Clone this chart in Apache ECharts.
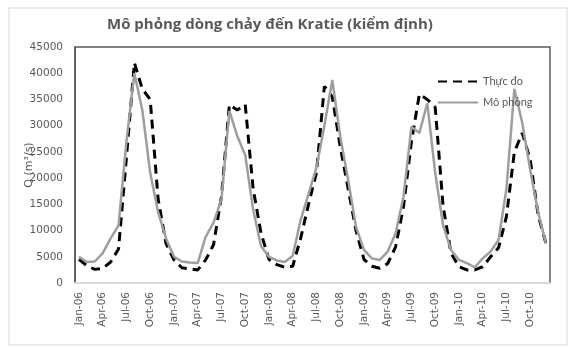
<!DOCTYPE html>
<html>
<head>
<meta charset="utf-8">
<script src="https://cdn.jsdelivr.net/npm/echarts@6/dist/echarts.min.js"></script>
<style>
html,body{margin:0;padding:0;background:#fff;}
#c{width:573px;height:354px;}
</style>
</head>
<body>
<div id="c"></div>
<script>
var categories = [
 'Jan-06','Feb-06','Mar-06','Apr-06','May-06','Jun-06','Jul-06','Aug-06','Sep-06','Oct-06','Nov-06','Dec-06',
 'Jan-07','Feb-07','Mar-07','Apr-07','May-07','Jun-07','Jul-07','Aug-07','Sep-07','Oct-07','Nov-07','Dec-07',
 'Jan-08','Feb-08','Mar-08','Apr-08','May-08','Jun-08','Jul-08','Aug-08','Sep-08','Oct-08','Nov-08','Dec-08',
 'Jan-09','Feb-09','Mar-09','Apr-09','May-09','Jun-09','Jul-09','Aug-09','Sep-09','Oct-09','Nov-09','Dec-09',
 'Jan-10','Feb-10','Mar-10','Apr-10','May-10','Jun-10','Jul-10','Aug-10','Sep-10','Oct-10','Nov-10','Dec-10'
];
var thucDo = [
 4500, 3300, 2600, 2800, 4000, 6500, 24000, 42000, 37000, 35000, 16000, 7500,
 4400, 2900, 2700, 2500, 4400, 7300, 16500, 34000, 33000, 34000, 18000, 9500,
 4500, 3500, 3000, 3200, 8500, 15000, 21000, 37500, 35500, 26000, 18000, 10000,
 4500, 3200, 2800, 3700, 6900, 14600, 27000, 36000, 35000, 33500, 14600, 5700,
 3100, 2500, 2500, 3100, 5000, 6700, 12700, 25000, 28600, 23500, 13000, 7500
];
var moPhong = [
 5000, 4000, 4100, 5700, 8500, 11000, 27000, 40000, 33000, 21000, 13500, 8500,
 5000, 4100, 3900, 3800, 8800, 11500, 16000, 32800, 28000, 24400, 14000, 7000,
 5000, 4300, 4000, 5200, 12000, 17000, 22000, 30000, 38700, 28000, 19700, 10700,
 6300, 4700, 4400, 6000, 9500, 16500, 29800, 28600, 34300, 21000, 11000, 6300,
 4400, 3800, 3000, 4700, 6000, 8200, 18000, 37000, 30500, 21600, 13500, 7500
];
var seriesNames = ['Thực đo', 'Mô phỏng'];
var titleText = 'Mô phỏng dòng chảy đến Kratie (kiểm định)';
var yAxisName = 'Q (m³/s)';

var chart = echarts.init(document.getElementById('c'), null, {renderer: 'canvas'});
chart.setOption({
  backgroundColor: '#fff',
  animation: false,
  title: {
    text: titleText,
    left: 102,
    top: 12,
    textStyle: {fontFamily: 'Open Sans', fontSize: 15, fontWeight: 'bold', color: '#595959'}
  },
  graphic: [{
    type: 'rect', shape: {x: 9, y: 8, width: 558, height: 337},
    style: {fill: 'none', stroke: '#d9d9d9', lineWidth: 1}, z: -1
  }],
  legend: {
    orient: 'vertical',
    left: 432,
    top: 71,
    itemWidth: 40,
    itemHeight: 12,
    itemGap: 10,
    itemStyle: {opacity: 0},
    textStyle: {fontFamily: 'Lato', fontSize: 11, color: '#595959'},
    data: [seriesNames[0], seriesNames[1]]
  },
  grid: {
    left: 75, right: 23, top: 47, bottom: 71,
    show: true, borderColor: '#595959', borderWidth: 1.5, backgroundColor: '#fff'
  },
  xAxis: {
    type: 'category',
    data: categories,
    boundaryGap: true,
    axisLine: {lineStyle: {color: '#d9d9d9', width: 2}},
    axisTick: {show: false},
    axisLabel: {
      interval: 2, rotate: 90, margin: 9,
      fontFamily: 'DejaVu Sans', fontSize: 10.5, color: '#595959'
    }
  },
  yAxis: {
    type: 'value',
    min: 0, max: 45000, interval: 5000,
    name: yAxisName,
    nameLocation: 'middle',
    nameRotate: 90,
    nameGap: 40,
    nameMoveOverlap: false,
    nameTextStyle: {fontFamily: 'DejaVu Sans', fontSize: 11, color: '#595959'},
    axisLine: {show: true, lineStyle: {color: '#595959', width: 1.5}},
    axisTick: {show: false},
    splitLine: {show: false},
    axisLabel: {
      fontFamily: 'DejaVu Sans', fontSize: 10.5, color: '#595959', margin: 12,
      formatter: function (v) { return String(v); }
    }
  },
  series: [
    {
      name: seriesNames[0], type: 'line', data: thucDo, showSymbol: false, symbol: 'none',
      lineStyle: {color: '#000', width: 3, type: [9, 6]},
      itemStyle: {color: '#000'}
    },
    {
      name: seriesNames[1], type: 'line', data: moPhong, showSymbol: false, symbol: 'none',
      lineStyle: {color: '#9e9e9e', width: 2.5},
      itemStyle: {color: '#9e9e9e'}
    }
  ]
});
</script>
</body>
</html>
